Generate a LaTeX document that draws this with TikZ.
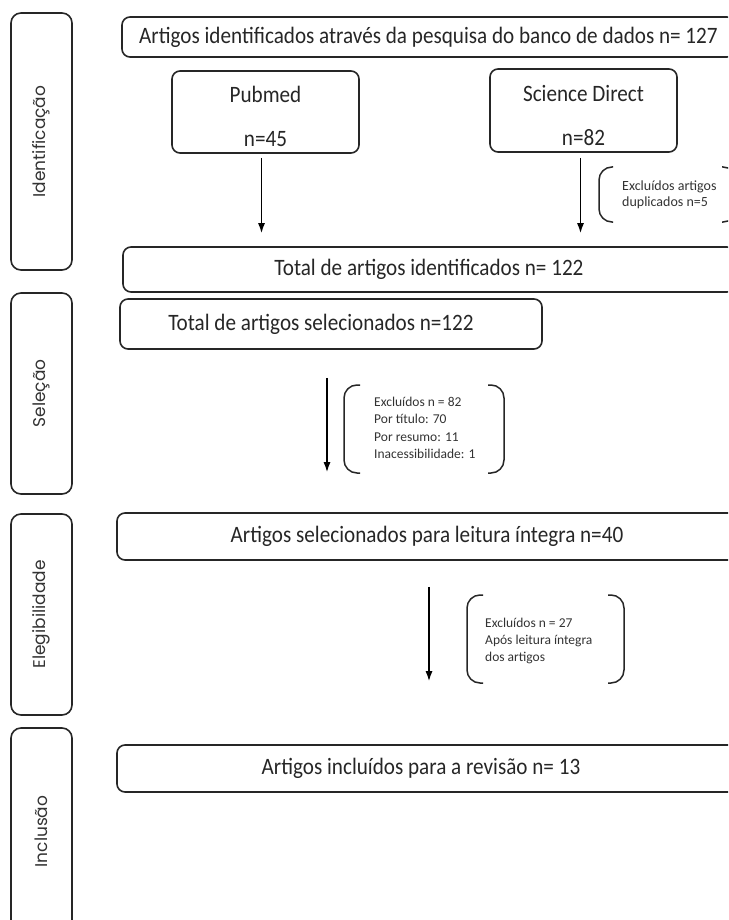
\documentclass[tikz,border=0pt]{standalone}
\usepackage{fontspec}
\setmainfont[FakeStretch=0.9]{Carlito}
\newfontfamily\smallfont{Carlito}
\newfontfamily\sidefont{Poppins}
\usetikzlibrary{arrows.meta,positioning,calc}

\newcommand{\twolines}[2]{\raisebox{0pt}[\height][\dimexpr\depth-14pt\relax]{%
  \begin{tabular}{@{}c@{}}#1\\[16pt]#2\end{tabular}}}

\tikzset{
  mainbox/.style={draw=black!85, line width=1.6pt, rounded corners=8pt, inner sep=0pt,
    text=black!85, font=\fontsize{23.5}{28}\selectfont, align=center},
  sidebox/.style={draw=black!85, line width=1.6pt, rounded corners=10pt, inner sep=0pt,
    rotate=90, minimum height=61pt, text=black!80, font=\sidefont\fontsize{17}{20}\selectfont},
  exclnote/.style={anchor=west, inner sep=0pt, align=left, text=black!80},
  paren/.style={draw=black!85, line width=1.5pt, rounded corners=13pt},
  flow/.style={draw=black, line width=1.4pt, -{Latex[length=10pt,width=7pt]}}
}

\begin{document}
\begin{tikzpicture}[x=1pt,y=-1pt]
  \clip (0,0) rectangle (728,920);

  % fases
  \node[sidebox, minimum width=257pt] (idf) at (41.5,141.5) {Identificação};
  \node[sidebox, minimum width=201pt] (selb) at (41.5,393.5) {Seleção};
  \node[sidebox, minimum width=201pt] (eleb) at (41.5,614.5) {Elegibilidade};
  \node[sidebox, minimum width=207pt] (incb) at (41.5,831.5) {Inclusão};

  % caixas principais
  \node[mainbox, minimum width=613pt, minimum height=40pt] (db) at (428.5,37)
    {Artigos identificados através da pesquisa do banco de dados n= 127};
  \node[mainbox, minimum width=187pt, minimum height=82pt] (pub) at (265.5,112)
    {\twolines{Pubmed}{n=45}};
  \node[mainbox, minimum width=187pt, minimum height=83pt] (sd) at (583.5,110.5)
    {\twolines{Science Direct}{n=82}};
  \node[mainbox, minimum width=612pt, minimum height=45pt] (tot) at (429,269.5)
    {Total de artigos identificados n= 122};
  \node[mainbox, minimum width=422pt, minimum height=50pt] (sel) at (331,324)
    {Total de artigos selecionados n=122\hspace*{20pt}};
  \node[mainbox, minimum width=620pt, minimum height=47pt] (lei) at (427,536.5)
    {Artigos selecionados para leitura íntegra n=40};
  \node[mainbox, minimum width=620pt, minimum height=47pt] (inc) at (427,768.5)
    {Artigos incluídos para a revisão n= 13\hspace*{12pt}};

  % exclusoes
  \node[exclnote, font=\smallfont\fontsize{14}{16}\selectfont] (ex1) at (622,195)
    {Excluídos artigos\\duplicados n=5};
  \node[exclnote, font=\smallfont\fontsize{13.5}{17.3}\selectfont] (ex2) at (374,428)
    {Excluídos n = 82\\Por título: 70\\Por resumo: 11\\Inacessibilidade: 1};
  \node[exclnote, font=\smallfont\fontsize{13.5}{17}\selectfont] (ex3) at (485,641)
    {Excluídos n = 27\\Após leitura íntegra\\dos artigos};

  \draw[paren] (613,167) -- (599,167) -- (599,222) -- (613,222);
  \draw[paren] (722,167) -- (736,167) -- (736,222) -- (722,222);
  \draw[paren] (360,385) -- (344,385) -- (344,473) -- (360,473);
  \draw[paren] (488,385) -- (504,385) -- (504,473) -- (488,473);
  \draw[paren] (483,595) -- (467,595) -- (467,683) -- (483,683);
  \draw[paren] (608,595) -- (624,595) -- (624,683) -- (608,683);

  % setas
  \draw[flow, shorten <=4pt, shorten >=13pt] ([xshift=-4pt]pub.south) -- ([xshift=-4pt]pub.south |- tot.north);
  \draw[flow, shorten <=5pt, shorten >=13pt] ([xshift=-3pt]sd.south) -- ([xshift=-3pt]sd.south |- tot.north);
  \draw[flow, shorten <=28pt, shorten >=40pt] ([xshift=-4pt]sel.south) -- ([xshift=-4pt]sel.south |- lei.north);
  \draw[flow, shorten <=26pt, shorten >=63pt] ([xshift=2pt]lei.south) -- ([xshift=2pt]lei.south |- inc.north);
\end{tikzpicture}
\end{document}
